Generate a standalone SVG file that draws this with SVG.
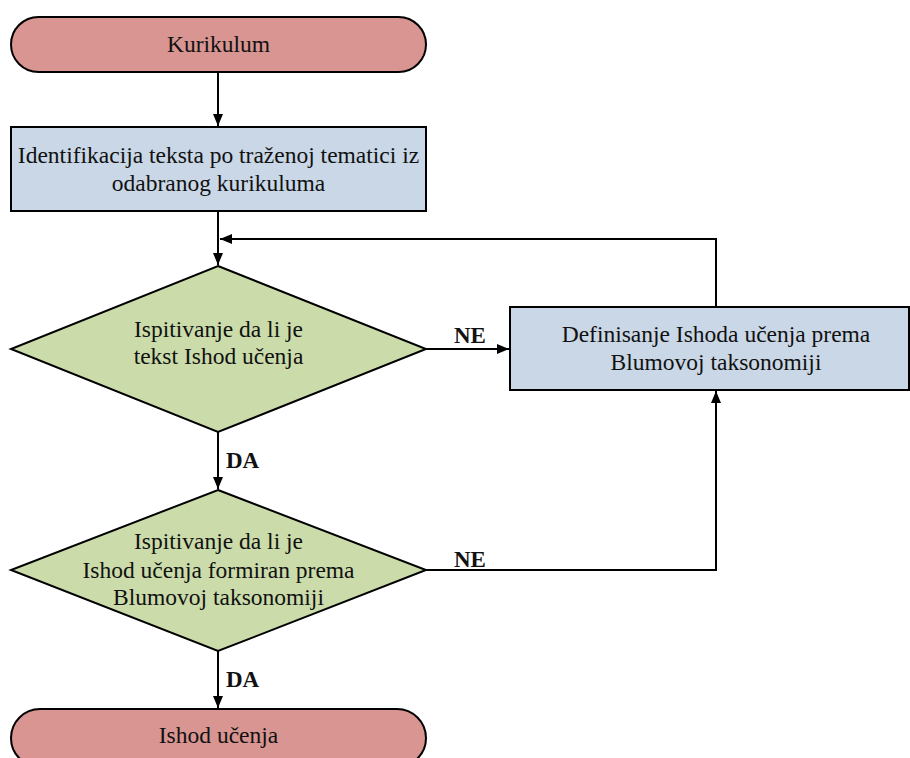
<svg xmlns="http://www.w3.org/2000/svg" width="910" height="758" viewBox="0 0 910 758">
<defs>
<marker id="ah" viewBox="0 0 12 10" refX="12" refY="5" markerWidth="12" markerHeight="10" markerUnits="userSpaceOnUse" orient="auto"><path d="M0,0 L12,5 L0,10 Z" fill="#000"/></marker>
<style>
.t{font-size:23.5px;fill:#111;text-anchor:middle}
.l{font-size:23px;font-weight:bold;fill:#111}
.term{fill:#d99592;stroke:#000;stroke-width:2}
.proc{fill:#c9d7e6;stroke:#000;stroke-width:2}
.dec{fill:#cbdcaa;stroke:#000;stroke-width:2}
.c{fill:none;stroke:#000;stroke-width:2}
</style>
</defs>
<rect width="910" height="758" fill="#fff"/>
<g font-family="Liberation Serif, DejaVu Serif, serif">
<g id="connectors">
<path class="c" d="M218,72 V126" marker-end="url(#ah)"/>
<path class="c" d="M218,211 V265" marker-end="url(#ah)"/>
<path class="c" d="M716,307 V239 H220" marker-end="url(#ah)"/>
<path class="c" d="M426,349 H509" marker-end="url(#ah)"/>
<path class="c" d="M218,432 V489" marker-end="url(#ah)"/>
<path class="c" d="M426,570 H716 V391" marker-end="url(#ah)"/>
<path class="c" d="M218,651 V708" marker-end="url(#ah)"/>
<text class="l" x="454" y="343">NE</text>
<text class="l" x="226" y="468">DA</text>
<text class="l" x="454" y="567">NE</text>
<text class="l" x="226" y="687">DA</text>
</g>
<g id="kurikulum">
<rect class="term" x="11" y="17" width="415" height="55" rx="27.5" ry="27.5"/>
<text class="t" x="218.5" y="52">Kurikulum</text>
</g>
<g id="identifikacija">
<rect class="proc" x="11" y="127" width="415" height="84"/>
<text class="t" x="218.5" y="163">Identifikacija teksta po traženoj tematici iz</text>
<text class="t" x="218.5" y="191">odabranog kurikuluma</text>
</g>
<g id="ispitivanje1">
<polygon class="dec" points="218,266 426,349 218,432 11,349"/>
<text class="t" x="218.5" y="337">Ispitivanje da li je</text>
<text class="t" x="218.5" y="364">tekst Ishod učenja</text>
</g>
<g id="definisanje">
<rect class="proc" x="510" y="307" width="399" height="83"/>
<text class="t" x="716" y="342">Definisanje Ishoda učenja prema</text>
<text class="t" x="716" y="370">Blumovoj taksonomiji</text>
</g>
<g id="ispitivanje2">
<polygon class="dec" points="218,490 426,570 218,651 11,570"/>
<text class="t" x="218.5" y="549">Ispitivanje da li je</text>
<text class="t" x="218.5" y="578">Ishod učenja formiran prema</text>
<text class="t" x="218.5" y="605">Blumovoj taksonomiji</text>
</g>
<g id="ishod">
<rect class="term" x="11" y="709" width="415" height="58" rx="29" ry="29"/>
<text class="t" x="218.5" y="743">Ishod učenja</text>
</g>
</g>
</svg>
